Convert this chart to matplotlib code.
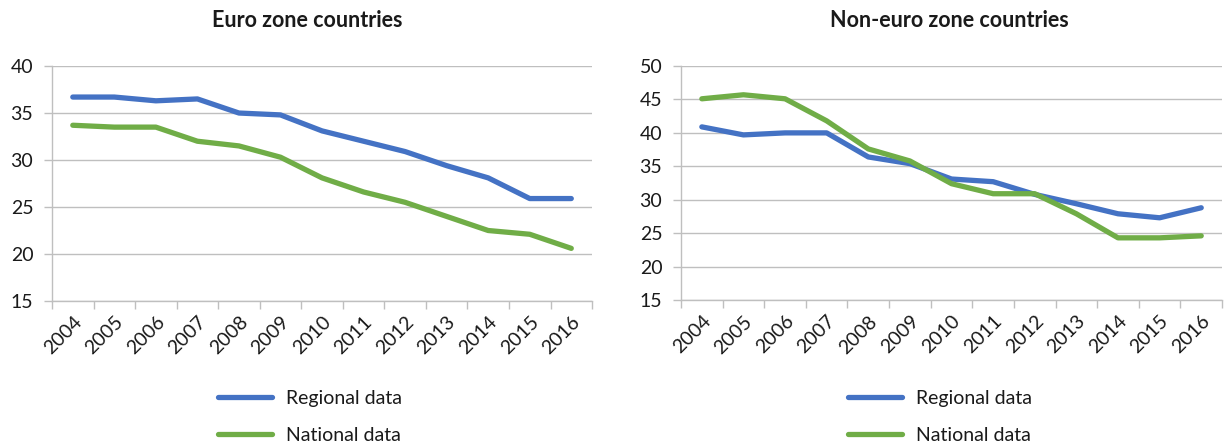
import matplotlib.pyplot as plt
from matplotlib.lines import Line2D

# Years on the x axis
years = ['2004', '2005', '2006', '2007', '2008', '2009', '2010',
         '2011', '2012', '2013', '2014', '2015', '2016']

# Euro zone countries
euro_regional = [36.7, 36.7, 36.3, 36.5, 35.0, 34.8, 33.1, 32.0, 30.9, 29.4, 28.1, 25.9, 25.9]
euro_national = [33.7, 33.5, 33.5, 32.0, 31.5, 30.3, 28.1, 26.6, 25.5, 24.0, 22.5, 22.1, 20.6]

# Non-euro zone countries
non_regional = [40.9, 39.7, 40.0, 40.0, 36.4, 35.4, 33.1, 32.7, 30.8, 29.4, 27.9, 27.3, 28.8]
non_national = [45.1, 45.7, 45.1, 41.8, 37.6, 35.8, 32.4, 30.9, 30.9, 27.9, 24.3, 24.3, 24.6]

BLUE = '#4472C4'
GREEN = '#70AD47'
GRID = '#BFBFBF'
TEXT = '#1a1a1a'

plt.rcParams['font.family'] = ['Lato', 'DejaVu Sans']

fig = plt.figure(figsize=(12.24, 4.45), dpi=100)


def draw_panel(rect, title, regional, national, ylim, legend_x, title_x):
    ax = fig.add_axes(rect)
    x = list(range(len(years)))
    ax.plot(x, regional, color=BLUE, linewidth=3.8, solid_capstyle='round', zorder=3)
    ax.plot(x, national, color=GREEN, linewidth=3.8, solid_capstyle='round', zorder=3)

    ax.set_xlim(-0.5, len(years) - 0.5)
    ax.set_ylim(*ylim)
    ax.set_yticks(range(ylim[0], ylim[1] + 1, 5))
    ax.grid(axis='y', color=GRID, linewidth=1)
    ax.set_axisbelow(True)

    for side in ('top', 'right'):
        ax.spines[side].set_visible(False)
    for side in ('left', 'bottom'):
        ax.spines[side].set_color(GRID)
        ax.spines[side].set_linewidth(1)

    # year labels on categories, tick marks between them
    ax.set_xticks(x)
    ax.set_xticklabels(years, rotation=45, ha='right', rotation_mode='anchor')
    ax.tick_params(axis='x', which='major', length=0, pad=9, labelsize=14, labelcolor=TEXT)
    ax.set_xticks([i - 0.5 for i in range(len(years) + 1)], minor=True)
    ax.tick_params(axis='x', which='minor', length=5.5, color=GRID, width=1)
    ax.tick_params(axis='y', length=5.5, color=GRID, width=1, pad=8,
                   labelsize=14, labelcolor=TEXT)

    fig.text(title_x, 0.955, title, ha='center', va='center',
             fontsize=15.5, fontweight='bold', color=TEXT)

    handles = [Line2D([], [], color=BLUE, linewidth=3.8, solid_capstyle='round'),
               Line2D([], [], color=GREEN, linewidth=3.8, solid_capstyle='round')]
    fig.legend(handles, ['Regional data', 'National data'], loc='upper left',
               bbox_to_anchor=(legend_x, 0.142), bbox_transform=fig.transFigure,
               frameon=False, fontsize=14, handlelength=2.8, labelspacing=1.05,
               handletextpad=0.7, borderaxespad=0, labelcolor=TEXT)
    return ax


draw_panel([0.0425, 0.3236, 0.4412, 0.528], 'Euro zone countries',
           euro_regional, euro_national, (15, 40), 0.1717, 0.2512)
draw_panel([0.5564, 0.3258, 0.442, 0.5258], 'Non-euro zone countries',
           non_regional, non_national, (15, 50), 0.6864, 0.776)

fig.savefig('out.png', dpi=100)
